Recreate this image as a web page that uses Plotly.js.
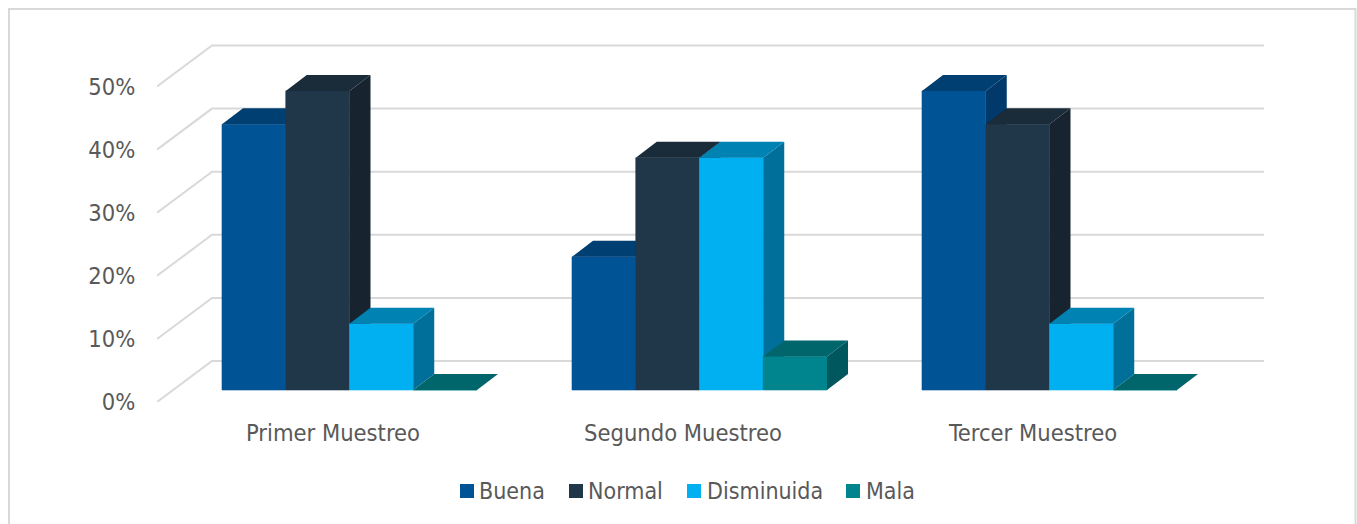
<!DOCTYPE html>
<html>
<head>
<meta charset="utf-8">
<script src="https://cdn.plot.ly/plotly-3.0.1.min.js"></script>
<style>html,body{margin:0;padding:0;background:#fff}#chart{width:1357px;height:524px}</style>
</head>
<body>
<div id="chart"></div>
<script>
// Sampling rounds and the share of each rating, in percent
const muestreos = ['Primer Muestreo', 'Segundo Muestreo', 'Tercer Muestreo'];
const buena = [42.1, 21.1, 47.4];
const normal = [47.4, 36.8, 42.1];
const disminuida = [10.5, 36.8, 10.5];
const mala = [0, 5.3, 0];
const ejeValores = [0, 10, 20, 30, 40, 50];
const ejeTextos = ['0%', '10%', '20%', '30%', '40%', '50%'];
const nombres = ['Buena', 'Normal', 'Disminuida', 'Mala'];
const coloresFrente = ['#005395', '#203649', '#00b0f0', '#00858f'];
const coloresTapa = ['#003f72', '#1a2b39', '#0083b3', '#00666b'];
const coloresLado = ['#00396a', '#17242f', '#00709a', '#00585e'];

const W = 1357, H = 524;
const FONT = '"DejaVu Sans Condensed", "DejaVu Sans", sans-serif';
const FONT_SIZE = 23.5, LEGEND_SIZE = 23;
const TEXT = '#595959', GRID = '#d9d9d9';

// Plot rectangle in page pixels: its left and bottom edges are the front of the floor
const plotL = 157, plotR = 1264, plotT = 40, plotB = 402;
const pxX = 350;            // pixels per category
const pxY = 6.31;           // pixels per percentage point
const xMin = 1 - 176 / pxX;
const xMax = xMin + (plotR - plotL) / pxX;
const yMax = (plotB - plotT) / pxY;

// Oblique projection: offsets of the back wall and of the bars' front plane
const wallDx = 55 / pxX, wallDy = 41 / pxY;
const barDx = 16.5 / pxX, barDy = 12 / pxY;
const depthX = 21 / pxX, depthY = 16 / pxY;
const barW = 63.75 / pxX;

const paperX = px => (px - plotL) / (plotR - plotL);
const paperY = py => (plotB - py) / (plotB - plotT);

const traces = [];

// Back wall and left wall gridlines
ejeValores.forEach(v => {
  traces.push({
    type: 'scatter', mode: 'lines', showlegend: false, hoverinfo: 'skip',
    x: [xMin, xMin + wallDx, xMax],
    y: [v, v + wallDy, v + wallDy],
    line: {color: GRID, width: 2}
  });
});

// Each series sits on its own overlaid axis so that later series paint over earlier ones
const series = [buena, normal, disminuida, mala];
const overlayAxes = {};
series.forEach((vals, j) => {
  const axisId = 'y' + (j + 2);
  overlayAxes['yaxis' + (j + 2)] = {
    overlaying: 'y', visible: false, fixedrange: true,
    range: [-barDy, yMax - barDy]
  };
  const xs = muestreos.map((_, i) => i + 1 + barDx);
  const sx = [], sy = [], tx = [], ty = [];
  vals.forEach((v, i) => {
    const a = xs[i] - 2 * barW + j * barW, b = a + barW;
    sx.push(b, b + depthX, b + depthX, b, b, null);
    sy.push(0, depthY, v + depthY, v, 0, null);
    tx.push(a, b, b + depthX, a + depthX, a, null);
    ty.push(v, v, v + depthY, v + depthY, v, null);
  });
  traces.push({
    type: 'bar', name: nombres[j], x: xs, y: vals, yaxis: axisId,
    width: barW, offset: -2 * barW + j * barW,
    // an outline in the bar's own colour closes the hairline seams between neighbours
    marker: {color: coloresFrente[j], line: {width: 0.6, color: coloresFrente[j]}},
    showlegend: false,
    hovertemplate: nombres[j] + ': %{y}%<extra></extra>'
  });
  traces.push({
    type: 'scatter', mode: 'lines', x: sx, y: sy, yaxis: axisId, fill: 'toself',
    fillcolor: coloresLado[j], line: {width: 0}, showlegend: false, hoverinfo: 'skip'
  });
  traces.push({
    type: 'scatter', mode: 'lines', x: tx, y: ty, yaxis: axisId, fill: 'toself',
    fillcolor: coloresTapa[j], line: {width: 0}, showlegend: false, hoverinfo: 'skip'
  });
});

// Outer frame plus the legend swatches and labels along the bottom
const swatchX = [460, 569, 687, 846];
const labelX = [477, 586, 705, 864];
const shapes = [{
  type: 'rect', xref: 'paper', yref: 'paper', layer: 'below',
  x0: paperX(9), x1: paperX(1355.5), y0: paperY(530), y1: paperY(9),
  line: {color: GRID, width: 2}, fillcolor: 'rgba(0,0,0,0)'
}];
const annotations = [];
nombres.forEach((n, j) => {
  shapes.push({
    type: 'rect', xref: 'paper', yref: 'paper',
    x0: paperX(swatchX[j]), x1: paperX(swatchX[j] + 14),
    y0: paperY(498), y1: paperY(484),
    line: {width: 0}, fillcolor: coloresFrente[j]
  });
  annotations.push({
    xref: 'paper', yref: 'paper', x: paperX(labelX[j]), y: paperY(491),
    xanchor: 'left', yanchor: 'middle', showarrow: false, text: n,
    font: {family: FONT, size: LEGEND_SIZE, color: TEXT}
  });
});

const layout = Object.assign({
  width: W, height: H,
  margin: {l: plotL, r: W - plotR, t: plotT, b: H - plotB, pad: 0},
  paper_bgcolor: '#fff', plot_bgcolor: 'rgba(0,0,0,0)',
  showlegend: false, barmode: 'overlay',
  font: {family: FONT, color: TEXT, size: FONT_SIZE},
  xaxis: {
    range: [xMin, xMax], tickmode: 'array', tickvals: [1, 2, 3], ticktext: muestreos,
    showgrid: false, zeroline: false, showline: false, fixedrange: true,
    ticks: 'outside', ticklen: 10, tickcolor: 'rgba(0,0,0,0)',
    tickfont: {family: FONT, size: FONT_SIZE, color: TEXT}
  },
  yaxis: {
    range: [0, yMax], tickmode: 'array', tickvals: ejeValores, ticktext: ejeTextos,
    showgrid: false, zeroline: false, showline: false, fixedrange: true,
    ticks: 'outside', ticklen: 16, tickcolor: 'rgba(0,0,0,0)',
    tickfont: {family: FONT, size: FONT_SIZE, color: TEXT}
  },
  shapes: shapes,
  annotations: annotations
}, overlayAxes);

Plotly.newPlot('chart', traces, layout, {displayModeBar: false, responsive: false});
</script>
</body>
</html>
